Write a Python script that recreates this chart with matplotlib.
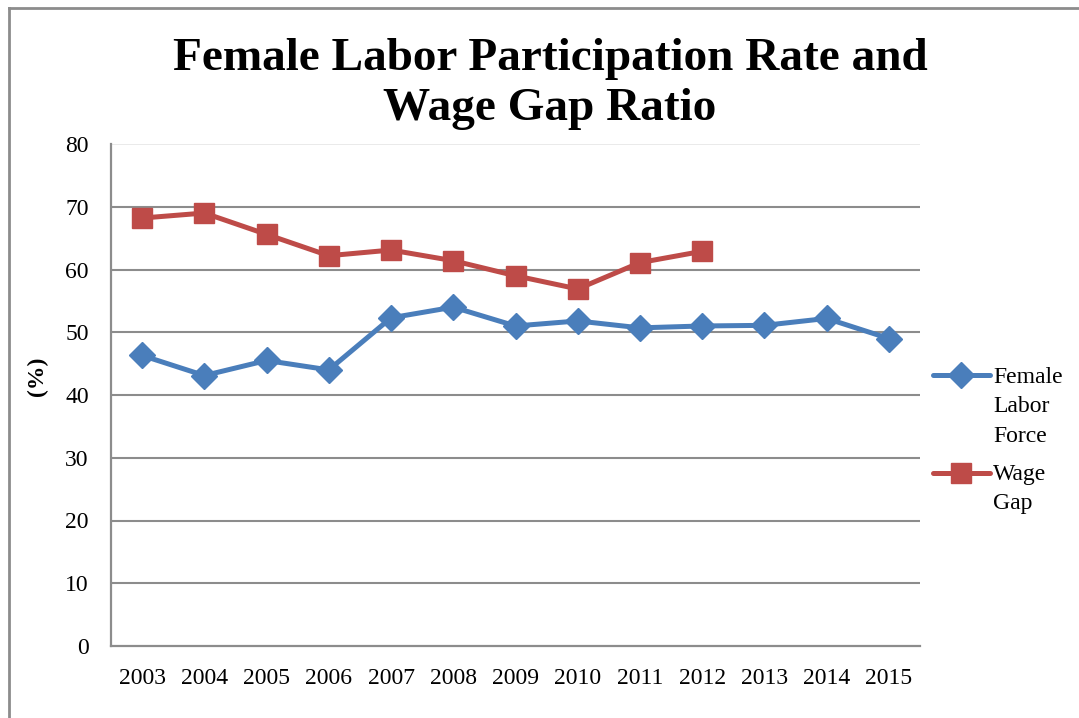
import matplotlib
matplotlib.use("Agg")
import matplotlib.pyplot as plt
from matplotlib.lines import Line2D

years = ["2003", "2004", "2005", "2006", "2007", "2008", "2009",
         "2010", "2011", "2012", "2013", "2014", "2015"]
female_labor = [46.3, 43.1, 45.5, 44.0, 52.3, 54.0, 51.0,
                51.8, 50.7, 51.0, 51.1, 52.2, 49.0]
wage_gap = [68.2, 69.0, 65.6, 62.2, 63.1, 61.4, 59.0,
            56.9, 61.1, 62.9]
y_ticks = [0, 10, 20, 30, 40, 50, 60, 70, 80]

title = "Female Labor Participation Rate and\nWage Gap Ratio"
label_female = "Female\nLabor\nForce"
label_wage = "Wage\nGap"

plt.rcParams['font.family'] = ['Liberation Serif', 'DejaVu Serif']

blue = "#4A7EBB"
red = "#BE4B48"
grid_c = "#8C8C8C"

W, H = 1079, 718
fig = plt.figure(figsize=(W / 100, H / 100), dpi=100)
ax = fig.add_axes([111/W, 72/H, (920-111)/W, (646-144)/H])

x_f = list(range(len(female_labor)))
x_w = list(range(len(wage_gap)))
style_f = dict(color=blue, lw=3.6, marker="D", ms=13, markeredgecolor=blue)
style_w = dict(color=red, lw=3.6, marker="s", ms=14, markeredgecolor=red)
ax.plot(x_f, female_labor, zorder=3, **style_f)
ax.plot(x_w, wage_gap, zorder=3, **style_w)

ax.set_xlim(-0.5, len(years) - 0.5)
ax.set_ylim(0, 80)
ax.set_yticks(y_ticks)
ax.set_yticklabels([str(v) for v in y_ticks], fontsize=17)
ax.set_xticks(range(len(years)))
ax.set_xticklabels(years, fontsize=17)
ax.tick_params(axis='y', length=0, pad=16)
ax.tick_params(axis='x', length=0, pad=16)

for v in y_ticks[1:-1]:
    ax.axhline(v, color=grid_c, lw=1.5, zorder=1)
ax.axhline(80, color="#E6E6E6", lw=1.2, zorder=1)

for s in ["top", "right"]:
    ax.spines[s].set_visible(False)
for s in ["left", "bottom"]:
    ax.spines[s].set_color(grid_c)
    ax.spines[s].set_linewidth(1.6)

ax.set_ylabel("(%)", fontsize=17, fontweight="bold")
ax.yaxis.set_label_coords((48 - 111) / 809, (646 - 376) / 502)

fig.text(550/W, 1 - 84/H, title, ha="center", va="center",
         fontsize=34, fontweight="bold", linespacing=1.25)

# legend: handle aligned with the first line of each label
def legend_entry(y_first, y_block, label, style):
    fig.add_artist(Line2D([933/W, 990/W], [1 - y_first/H, 1 - y_first/H],
                          transform=fig.transFigure, solid_capstyle="round",
                          markevery=[], **style))
    fig.add_artist(Line2D([961/W], [1 - y_first/H],
                          transform=fig.transFigure,
                          **{k: v for k, v in style.items() if k != "lw"},
                          linestyle="none"))
    fig.text(993/W, 1 - y_block/H, label, ha="left", va="center",
             fontsize=17, linespacing=1.55)

legend_entry(375, 407, label_female, style_f)
legend_entry(473, 489, label_wage, style_w)

# chart border (top and left edges visible)
fig.add_artist(Line2D([9/W, 1.0], [1 - 8/H, 1 - 8/H],
                      transform=fig.transFigure, color="#8C8C8C", lw=2))
fig.add_artist(Line2D([9/W, 9/W], [0.0, 1 - 8/H],
                      transform=fig.transFigure, color="#8C8C8C", lw=2))

fig.savefig("out.png", dpi=100)
